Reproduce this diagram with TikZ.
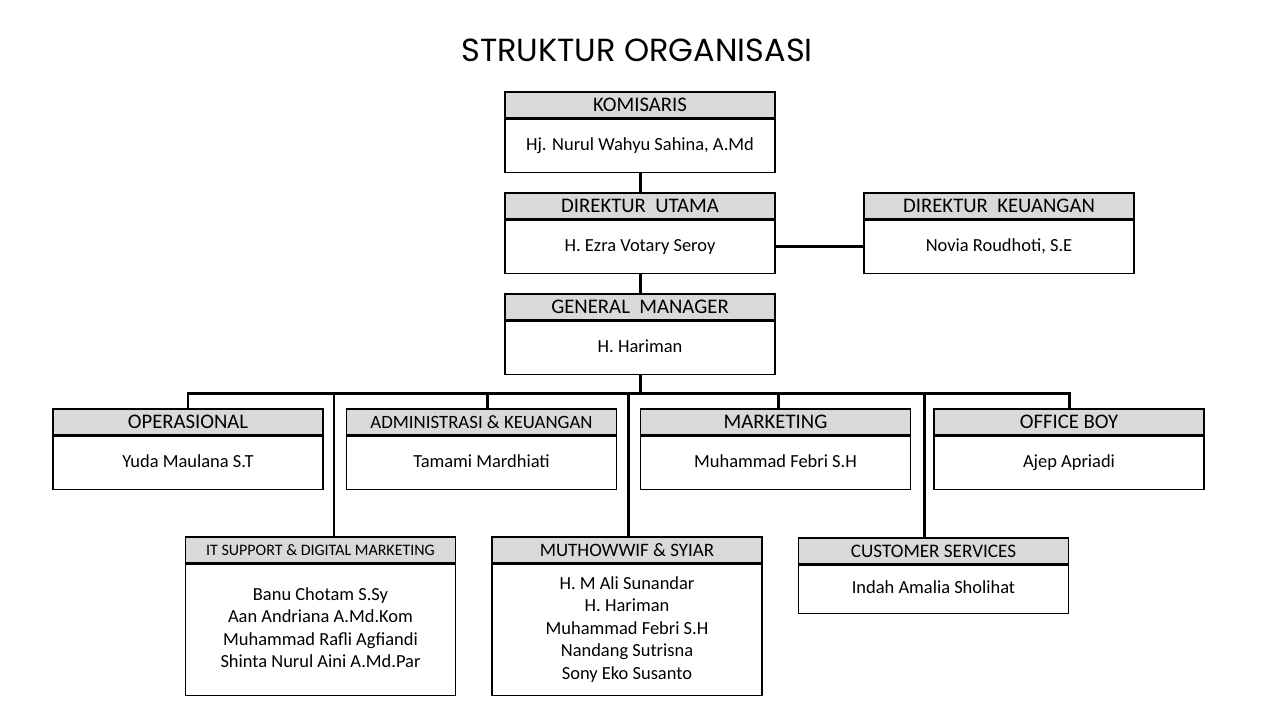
\documentclass[tikz,border=0pt]{standalone}
\usepackage{fontspec}
\setmainfont{Carlito}
\newfontfamily\titlefont{Poppins}
\usetikzlibrary{calc}
\definecolor{hdgray}{HTML}{D9D9D9}
\tikzset{
  headbox/.style={draw=black,line width=0.7pt,fill=hdgray,minimum width=5.4cm,minimum height=0.52cm,inner sep=0pt,font=\fontsize{11.8}{13}\selectfont}, % title strip
  bodybox/.style={draw=black,line width=0.7pt,fill=white,minimum width=5.4cm,inner sep=0pt,align=center,font=\fontsize{10.5}{12.8}\selectfont}, % names
  tie/.style={line width=1.7pt,line join=miter},
}
\newcommand{\orgbox}[6]{% name, x, y of strip, title, names, body height
  \node[headbox] (#1h) at (#2,#3) {#4};
  \node[bodybox,minimum height=#6,anchor=north] (#1b) at (#1h.south) {\strut#5\strut};
}
\newcommand{\stripsize}[1]{\fontsize{#1}{13}\selectfont}
\begin{document}
\begin{tikzpicture}[x=0.02cm,y=-0.02cm]
  \useasboundingbox (0,0) rectangle (1280,720);
  \node[font=\titlefont\fontsize{18.2}{21}\selectfont] (title) at (637,50) {STRUKTUR ORGANISASI};
  % top
  \orgbox{kom}{640}{105}{KOMISARIS}{Hj. Nurul Wahyu Sahina, A.Md}{1.06cm}
  \orgbox{du}{640}{206}{DIREKTUR\ \ UTAMA}{H. Ezra Votary Seroy}{1.06cm}
  \orgbox{dk}{999}{206}{DIREKTUR\ \ KEUANGAN}{Novia Roudhoti, S.E}{1.06cm}
  \orgbox{gm}{640}{307}{GENERAL\ \ MANAGER}{H. Hariman}{1.06cm}
  % row one
  \orgbox{ops}{188}{422}{OPERASIONAL}{Yuda Maulana S.T}{1.06cm}
  \orgbox{adm}{481.5}{422}{{\stripsize{10.7}ADMINISTRASI \& KEUANGAN}}{Tamami Mardhiati}{1.06cm}
  \orgbox{mkt}{775.5}{422}{MARKETING}{Muhammad Febri S.H}{1.06cm}
  \orgbox{ob}{1069}{422}{OFFICE BOY}{Ajep Apriadi}{1.06cm}
  % row two
  \orgbox{it}{320.5}{550}{{\stripsize{9.1}IT SUPPORT\ \& DIGITAL MARKETING}}{Banu Chotam S.Sy\\Aan Andriana A.Md.Kom\\Muhammad Rafli\ Agfiandi\\Shinta Nurul Aini A.Md.Par}{2.62cm}
  \orgbox{mw}{627}{550}{{\stripsize{10.8}MUTHOWWIF \& SYIAR}}{H. M Ali Sunandar\\H. Hariman\\Muhammad Febri S.H\\Nandang Sutrisna\\Sony Eko Susanto}{2.62cm}
  \orgbox{cs}{933.5}{551}{{\stripsize{10.9}CUSTOMER SERVICES}}{Indah Amalia Sholihat}{0.96cm}
  % lines
  \coordinate (bus) at (640,393);
  \draw[tie] (komb.south) -- (duh.north);
  \draw[tie] (dub.east) -- (dkb.west);
  \draw[tie] (dub.south) -- (gmh.north);
  \draw[tie] (gmb.south) -- (bus);
  \draw[tie] (opsh.north) -- (opsh.north |- bus) -- (obh.north |- bus) -- (obh.north);
  \draw[tie] ([xshift=0.11cm]admh.north) -- ([xshift=0.11cm]admh.north |- bus);
  \draw[tie] ([xshift=0.05cm]mkth.north) -- ([xshift=0.05cm]mkth.north |- bus);
  \draw[tie] ([xshift=0.27cm]ith.north) -- ([xshift=0.27cm]ith.north |- bus);
  \draw[tie] ([xshift=0.02cm]mwh.north) -- ([xshift=0.02cm]mwh.north |- bus);
  \draw[tie] ([xshift=-0.19cm]csh.north) -- ([xshift=-0.19cm]csh.north |- bus);
\end{tikzpicture}
\end{document}
